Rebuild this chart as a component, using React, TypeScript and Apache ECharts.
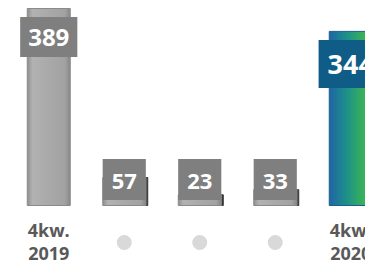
import React, { useEffect, useRef } from "react";
import * as echarts from "echarts";

const categories = ["4kw.\n2019", "", "", "", "4kw.\n2020"];
const values = [389, 57, 23, 33, 344];
const highlightIndex = 4;
const yMax = 400;

export default function App() {
  const ref = useRef<HTMLDivElement>(null);
  useEffect(() => {
    const chart = echarts.init(ref.current!, null, { renderer: "svg" });
    const grayGrad = new echarts.graphic.LinearGradient(0, 0, 1, 0, [
      { offset: 0, color: "#8e8e8e" },
      { offset: 0.12, color: "#b2b2b2" },
      { offset: 0.5, color: "#a9a9a9" },
      { offset: 0.88, color: "#a2a2a2" },
      { offset: 1, color: "#868686" },
    ]);
    const colorGrad = new echarts.graphic.LinearGradient(0, 0, 1, 0, [
      { offset: 0, color: "#2165a6" },
      { offset: 0.4, color: "#1d9089" },
      { offset: 0.8, color: "#38b25a" },
      { offset: 1, color: "#4cba48" },
    ]);
    const data = values.map((v, i) => {
      const hi = i === highlightIndex;
      const tall = v > yMax / 4;
      return {
        value: v,
        itemStyle: hi
          ? { color: colorGrad, borderColor: "#1b5f8c", borderWidth: 1 }
          : {
              color: grayGrad,
              borderColor: "#8a8a8a",
              borderWidth: 1,
              shadowColor: tall ? "rgba(0,0,0,0)" : "rgba(30,30,30,0.9)",
              shadowOffsetX: tall ? 0 : 2,
              shadowBlur: 0,
            },
        label: {
          show: true,
          position: tall ? "insideTop" : "insideBottom",
          distance: tall ? 9 : 6,
          color: "#ffffff",
          fontFamily: "Open Sans",
          fontWeight: "bold",
          fontSize: hi ? 27 : tall ? 24 : 22,
          lineHeight: hi ? 32 : tall ? 24 : 25,
          backgroundColor: hi ? "#0f5c86" : "#7f7f7f",
          padding: hi ? [8, 9] : tall ? [8, 8] : [8, 9],
        },
      };
    });
    chart.setOption({
      animation: false,
      grid: {
        left: 11,
        width: 377.5,
        top: 2.4,
        bottom: 57,
        containLabel: false,
        outerBoundsMode: "none",
      },
      xAxis: {
        type: "category",
        data: categories,
        axisLine: { show: false },
        axisTick: { show: false },
        axisLabel: {
          margin: 12,
          interval: 0,
          formatter: (v: string) =>
            v
              ? v
                  .split("\n")
                  .map((s) => `{t|${s}}`)
                  .join("\n")
              : "{s| }\n{c| }",
          rich: {
            t: {
              color: "#595959",
              fontFamily: "Open Sans",
              fontWeight: "bold",
              fontSize: 18,
              lineHeight: 23,
            },
            s: { height: 17, lineHeight: 17, fontSize: 1 },
            c: {
              width: 15,
              height: 15,
              borderRadius: 7.5,
              backgroundColor: "#d9d9d9",
              fontSize: 1,
            },
          },
        },
      },
      yAxis: {
        type: "value",
        min: 0,
        max: yMax,
        show: false,
        splitLine: { show: false },
      },
      series: [
        {
          type: "bar",
          barWidth: 44,
          data,
        },
      ],
    });
    return () => chart.dispose();
  }, []);
  return (
    <div
      ref={ref}
      style={{ position: "fixed", left: 0, top: 0, width: 365, height: 263, background: "#fff" }}
    />
  );
}
